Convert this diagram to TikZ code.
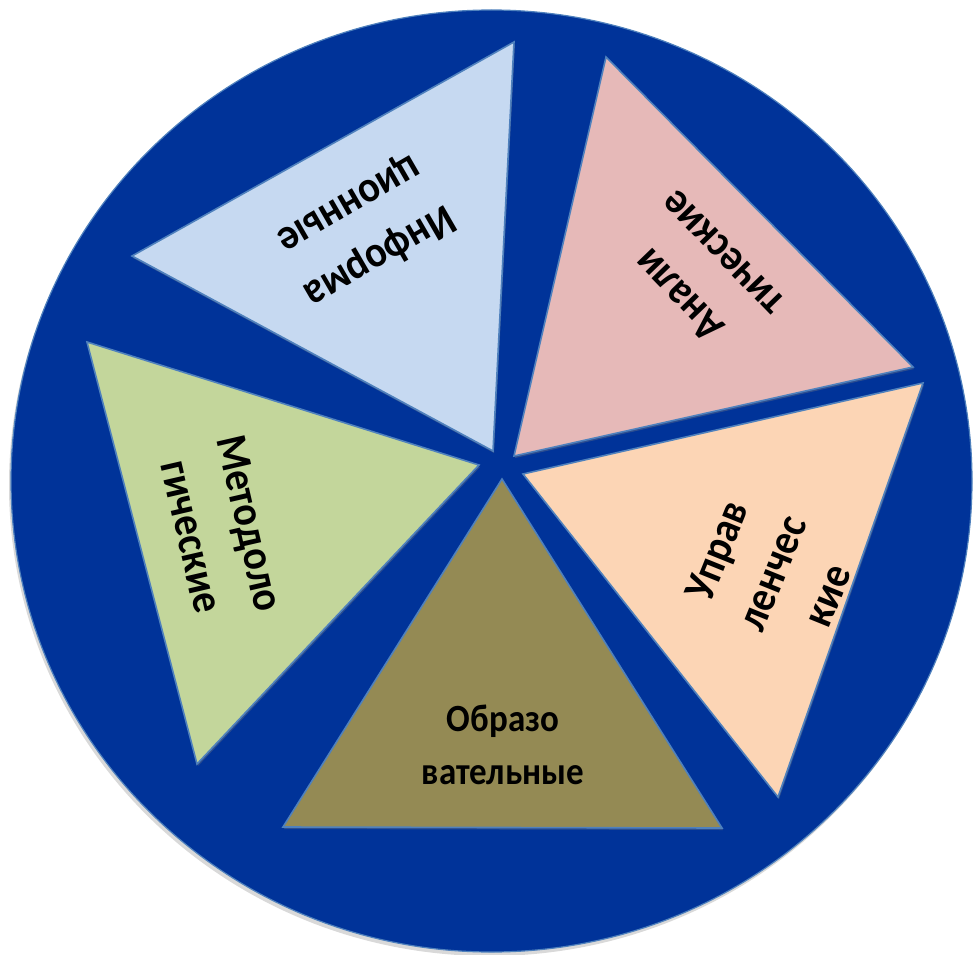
\documentclass[tikz,border=0pt]{standalone}
\usepackage{fontspec}
\setmainfont{Carlito}
\usetikzlibrary{shadows}
\definecolor{ringblue}{RGB}{0,51,153}
\definecolor{edgeblue}{RGB}{79,129,189}
\definecolor{infoblue}{RGB}{198,217,241}
\definecolor{analpink}{RGB}{230,185,184}
\definecolor{manpeach}{RGB}{252,213,181}
\definecolor{eduolive}{RGB}{148,138,84}
\definecolor{metgreen}{RGB}{195,214,155}

\begin{document}
\begin{tikzpicture}[x=1pt, y=-1pt,
   segment/.style={draw=edgeblue, line width=1.6pt, line join=miter,
     drop shadow={shadow xshift=1pt, shadow yshift=-2pt, opacity=0.35}},
   caption/.style 2 args={align=center, inner sep=0pt, text=black,
     rotate=#1, yscale=1.1,
     font=\fontsize{#2}{1.36\dimexpr#2pt\relax}\selectfont\bfseries}
   ]
   \useasboundingbox (0,0) rectangle (977,955);

   % outer disc
   \path[fill=ringblue, draw=edgeblue, line width=1.2pt,
     drop shadow={shadow xshift=-2pt, shadow yshift=-4pt, opacity=0.3}]
     (491.5,481) ellipse [x radius=480.5pt, y radius=471pt];

   % five wedges
   \path[segment, fill=infoblue] (132,256) -- (514,42) -- (493,451) -- cycle;
   \path[segment, fill=analpink] (606,57) -- (913,367) -- (514,456) -- cycle;
   \path[segment, fill=manpeach] (923,383) -- (778,797) -- (523,474) -- cycle;
   \path[segment, fill=eduolive] (502,479) -- (722,828) -- (283,827) -- cycle;
   \path[segment, fill=metgreen] (87,342) -- (479,465) -- (197,764) -- cycle;

   \node[caption={210}{40}] (info) at (364,230) {Информа\\ционные};
   \node[caption={134}{40}] (anal) at (700,275) {Анали\\тические};
   \node[caption={68}{40}] (man) at (772,573) {Управ\\ленчес\\кие};
   \node[caption={0}{35}] (edu) at (503,745) {Образо\\вательные};
   \node[caption={-77}{40}] (met) at (221,530) {Методоло\\гические};

\end{tikzpicture}
\end{document}
